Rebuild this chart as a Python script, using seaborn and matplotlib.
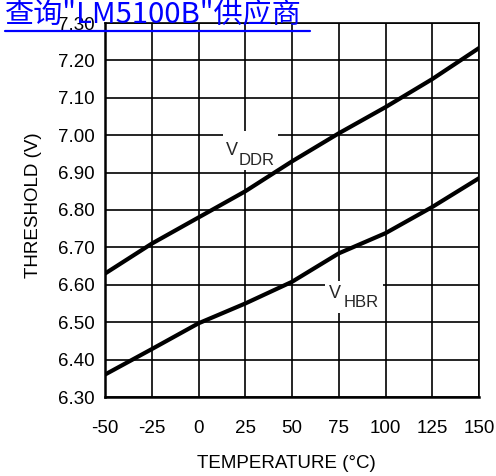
import matplotlib
matplotlib.use("Agg")
import matplotlib.pyplot as plt
from matplotlib.patches import Rectangle
from matplotlib.lines import Line2D
import seaborn as sns
import pandas as pd

# ---- data ----
temps = [-50, -25, 0, 25, 50, 75, 100, 125, 150]
vddr = [6.63, 6.71, 6.78, 6.85, 6.93, 7.005, 7.075, 7.15, 7.233]
vhbr = [6.36, 6.428, 6.497, 6.55, 6.608, 6.684, 6.738, 6.808, 6.885]
series_names = ["VDDR", "VHBR"]
x_ticks = [-50, -25, 0, 25, 50, 75, 100, 125, 150]
y_ticks = [6.30, 6.40, 6.50, 6.60, 6.70, 6.80, 6.90, 7.00, 7.10, 7.20, 7.30]
x_label = "TEMPERATURE (°C)"
y_label = "THRESHOLD (V)"
title_link = "查询\"LM5100B\"供应商"

df = pd.DataFrame({
    "temp": temps * 2,
    "v": vddr + vhbr,
    "series": [series_names[0]] * len(temps) + [series_names[1]] * len(temps),
})

sns.set_theme(style="white")
plt.rcParams["font.family"] = ["Liberation Sans", "DejaVu Sans"]

W, H = 496, 476
fig = plt.figure(figsize=(W / 100, H / 100), dpi=100)
L, R, T, B = 105, 479, 23, 397
ax = fig.add_axes([L / W, 1 - B / H, (R - L) / W, (B - T) / H])

sns.lineplot(data=df, x="temp", y="v", hue="series",
             palette=["black", "black"], linewidth=3.0, legend=False,
             ax=ax, zorder=3)

ax.set_xlim(-50, 150)
ax.set_ylim(6.30, 7.30)
ax.set_xticks(x_ticks)
ax.set_xticklabels([str(t) for t in x_ticks])
ax.set_yticks(y_ticks)
ax.set_yticklabels([f"{t:.2f}" for t in y_ticks])
ax.tick_params(axis="both", length=0, labelsize=13.5, colors="black")
ax.tick_params(axis="x", pad=16.5)
ax.tick_params(axis="y", pad=7.2)

ax.set_axisbelow(True)
ax.grid(True, color="black", linewidth=1.2)

for side in ["left", "bottom"]:
    ax.spines[side].set_linewidth(1.8)
for side in ["top", "right"]:
    ax.spines[side].set_linewidth(1.2)
for s in ax.spines.values():
    s.set_color("black")

ax.set_xlabel(x_label, fontsize=13.5, color="black")
ax.set_ylabel(y_label, fontsize=13.5, color="black")
ax.xaxis.set_label_coords((286 - L) / (R - L), (B - 463) / (B - T))
ax.xaxis.label.set_va("center")
ax.yaxis.set_label_coords((34 - L) / (R - L), (B - 205) / (B - T))
ax.yaxis.label.set_va("center")

# label boxes covering the grid
ax.add_patch(Rectangle((13, 6.907), 29.5, 0.103, facecolor="white",
                       edgecolor="none", zorder=1))
ax.add_patch(Rectangle((67.6, 6.525), 31.2, 0.084, facecolor="white",
                       edgecolor="none", zorder=1))

ax.text(14.7, 6.947, "V", fontsize=13, ha="left", va="baseline", zorder=4)
ax.text(21.7, 6.920, "DDR", fontsize=12, ha="left", va="baseline", zorder=4)
ax.text(69.8, 6.565, "V", fontsize=13, ha="left", va="baseline", zorder=4)
ax.text(77.8, 6.541, "HBR", fontsize=12, ha="left", va="baseline", zorder=4)

# blue link overlay
fig.text(5 / W, 1 - 22 / H, title_link, color="#0000ff", fontsize=21,
         family=["Noto Sans CJK SC", "DejaVu Sans"], ha="left", va="baseline",
         zorder=10)
fig.add_artist(Line2D([5 / W, 310 / W], [1 - 31 / H, 1 - 31 / H],
                      color="#0000ff", linewidth=1.6, zorder=10))

fig.savefig("out.png", dpi=100)
